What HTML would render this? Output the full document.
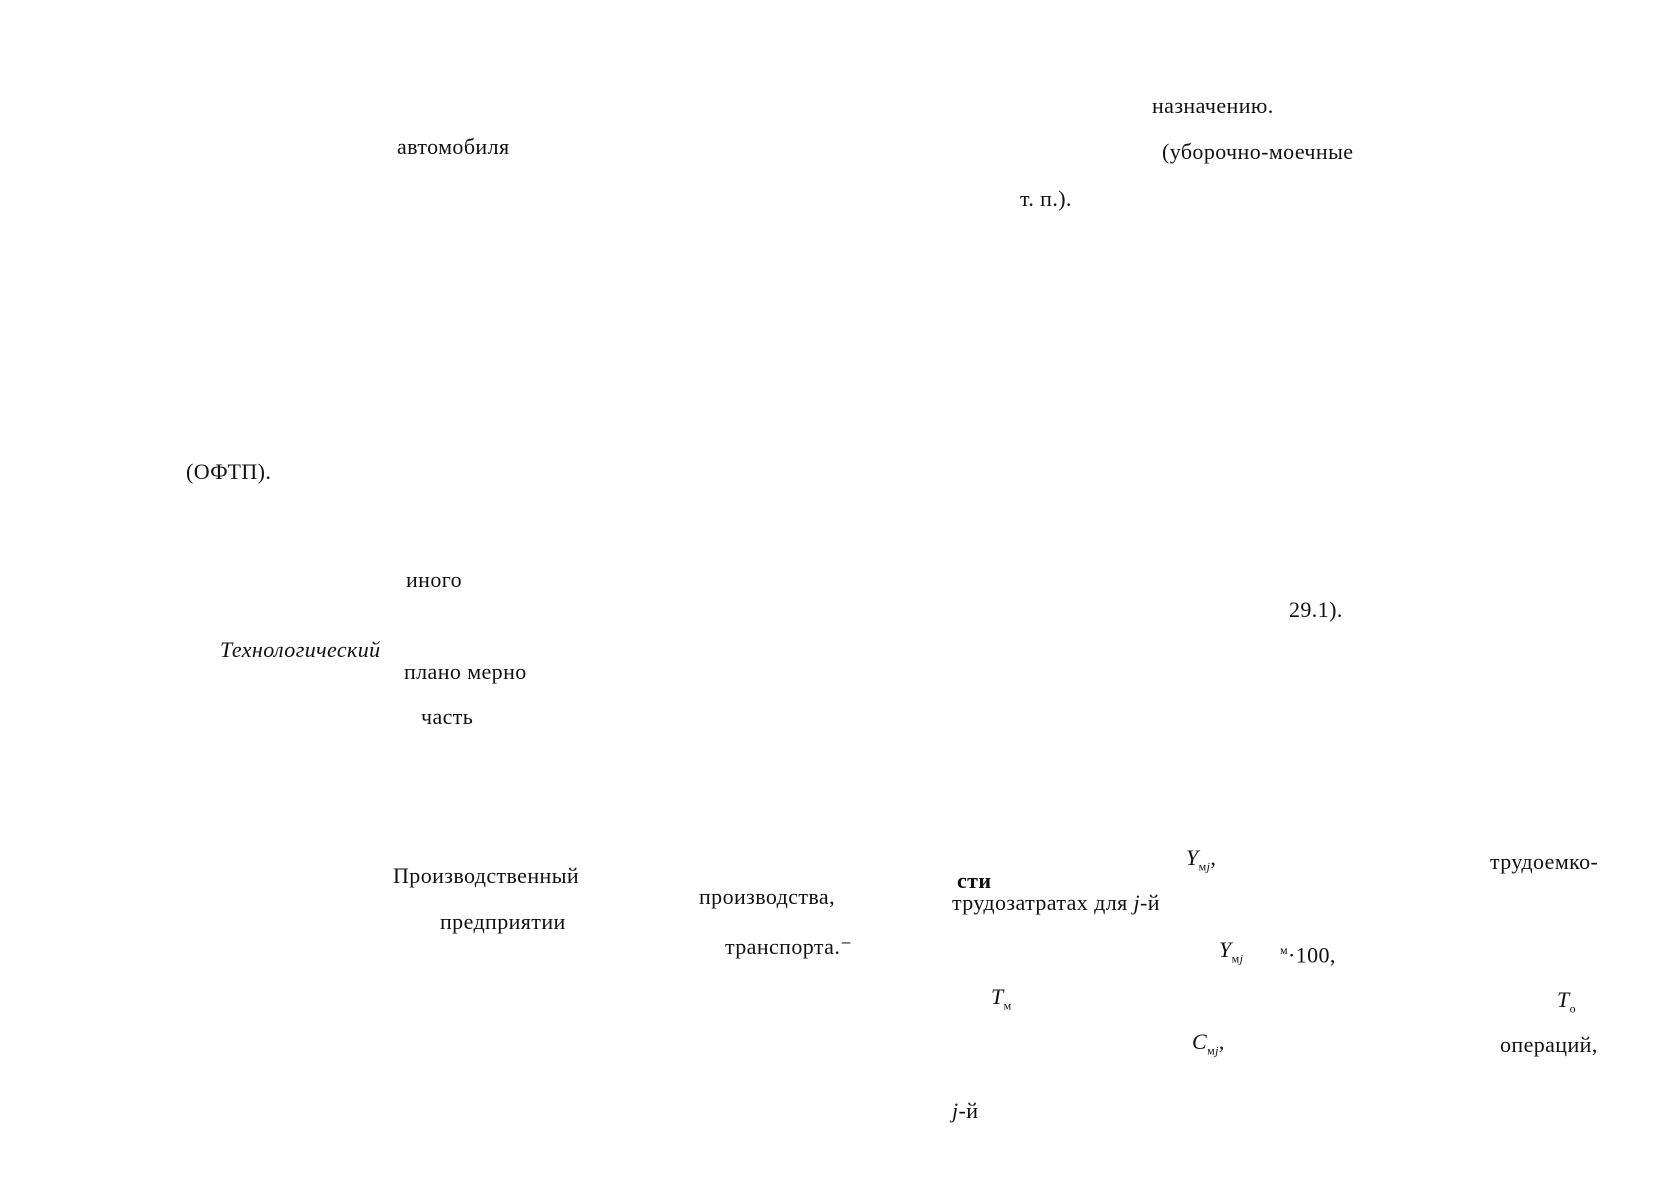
<!DOCTYPE html>
<html><head><meta charset="utf-8"><style>
body{margin:0;width:1680px;height:1190px;background:#fff;position:relative;overflow:hidden;font-family:"Liberation Serif","Noto Serif CJK SC",serif;font-size:22px;color:#111}
div{position:absolute;line-height:26px;white-space:nowrap;letter-spacing:0.4px}
i{font-style:italic}
sub{font-size:12px}
</style></head><body>
<div style="left:1152px;top:93px">назначению.</div>
<div style="left:397px;top:134px">автомобиля</div>
<div style="left:1162px;top:139px">(уборочно-моечные</div>
<div style="left:1020px;top:186px">т. п.).</div>
<div style="left:186px;top:459px">(ОФТП).</div>
<div style="left:406px;top:567px">иного</div>
<div style="left:1289px;top:597px">29.1).</div>
<div style="left:220px;top:637px"><i>Технологический</i></div>
<div style="left:404px;top:659px">плано мерно</div>
<div style="left:421px;top:704px">часть</div>
<div style="left:393px;top:863px">Производственный</div>
<div style="left:699px;top:884px">производства,</div>
<div style="left:957px;top:868px"><b>сти</b></div>
<div style="left:952px;top:890px">трудозатратах для <i>j</i>-й</div>
<div style="left:1186px;top:845px"><i>Y</i><sub>м<i>j</i></sub>,</div>
<div style="left:1490px;top:849px">трудоемко-</div>
<div style="left:440px;top:909px">предприятии</div>
<div style="left:725px;top:934px">транспорта.⁻</div>
<div style="left:1219px;top:937px"><i>Y</i><sub>м<i>j</i></sub></div>
<div style="left:1280px;top:937px"><sup style="font-size:12px">м</sup>·100,</div>
<div style="left:991px;top:984px"><i>T</i><sub>м</sub></div>
<div style="left:1557px;top:987px"><i>T</i><sub>о</sub></div>
<div style="left:1192px;top:1029px"><i>C</i><sub>м<i>j</i></sub>,</div>
<div style="left:1500px;top:1032px">операций,</div>
<div style="left:952px;top:1098px"><i>j</i>-й</div>
</body></html>
